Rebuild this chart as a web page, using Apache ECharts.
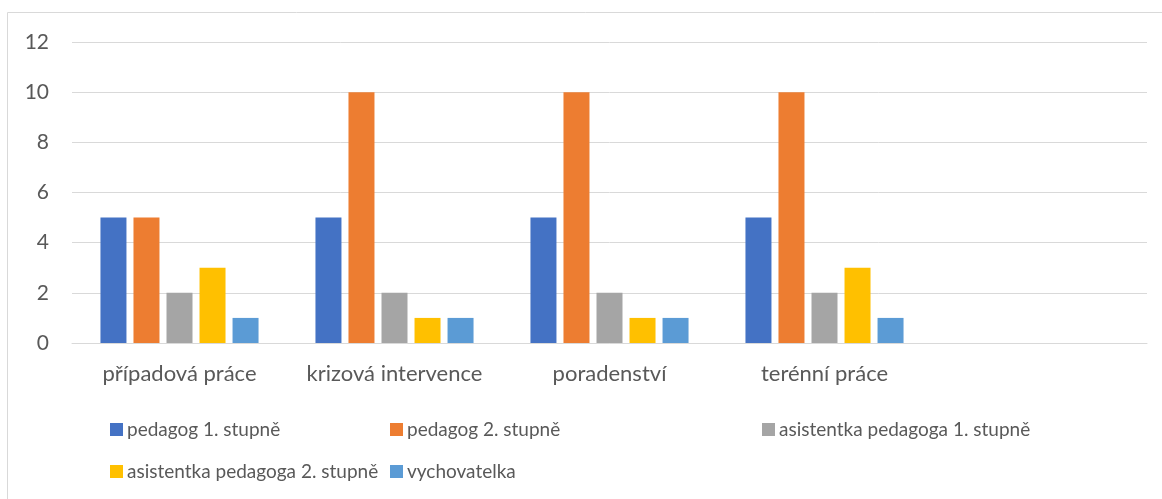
<!DOCTYPE html>
<html>
<head>
<meta charset="utf-8">
<script src="https://cdn.jsdelivr.net/npm/echarts@6/dist/echarts.min.js"></script>
<style>
  html, body { margin: 0; padding: 0; background: #fff; }
  #chart { width: 1162px; height: 499px; }
</style>
</head>
<body>
<div id="chart"></div>
<script>
// data
const categories = ["případová práce", "krizová intervence", "poradenství", "terénní práce", ""]
const seriesNames = [
  "pedagog 1. stupně",
  "pedagog 2. stupně",
  "asistentka pedagoga 1. stupně",
  "asistentka pedagoga 2. stupně",
  "vychovatelka",
]
const pedagog1 = [5, 5, 5, 5, null]
const pedagog2 = [5, 10, 10, 10, null]
const asistentka1 = [2, 2, 2, 2, null]
const asistentka2 = [3, 1, 1, 3, null]
const vychovatelka = [1, 1, 1, 1, null]
const yTicks = [0, 2, 4, 6, 8, 10, 12]

const values = [pedagog1, pedagog2, asistentka1, asistentka2, vychovatelka]
const colors = ["#4472C4", "#ED7D31", "#A5A5A5", "#FFC000", "#5B9BD5"]
const font = "Lato, 'Open Sans', sans-serif"
const textColor = "#595959"

const chart = echarts.init(document.getElementById("chart"))

// one legend per item so each sits where the original put it
const legendSpots = [
  { left: 110, top: 420 },
  { left: 390, top: 420 },
  { left: 762, top: 420 },
  { left: 110, top: 462 },
  { left: 390, top: 462 },
]
const legends = seriesNames.map((name, i) => ({
  data: [name],
  left: legendSpots[i].left,
  top: legendSpots[i].top,
  icon: "rect",
  itemWidth: 13,
  itemHeight: 13,
  padding: 0,
  selectedMode: false,
  textStyle: { color: textColor, fontSize: 19, fontFamily: font, padding: [0, 0, 0, -1] },
}))

const option = {
  animation: false,
  color: colors,
  graphic: [{
    type: "rect",
    shape: { x: 7.5, y: 12.5, width: 1170, height: 500 },
    style: { fill: "none", stroke: "#D9D9D9", lineWidth: 1 },
    silent: true,
  }],
  legend: legends,
  grid: { left: 72, right: 15, top: 42, bottom: 156 },
  xAxis: {
    type: "category",
    data: categories,
    axisLine: { lineStyle: { color: "#D9D9D9", width: 1 } },
    axisTick: { show: false },
    axisLabel: { color: textColor, fontSize: 22, fontFamily: font, margin: 20, interval: 0 },
  },
  yAxis: {
    type: "value",
    min: yTicks[0],
    max: yTicks[yTicks.length - 1],
    interval: 2,
    axisLine: { show: false },
    axisTick: { show: false },
    splitLine: { lineStyle: { color: "#D9D9D9", width: 1 } },
    axisLabel: { color: textColor, fontSize: 21, fontFamily: font, margin: 23 },
  },
  series: seriesNames.map((name, i) => ({
    name: name,
    type: "bar",
    data: values[i],
    barWidth: 26,
    barGap: "27%",
    itemStyle: { color: colors[i] },
  })),
}
chart.setOption(option)
</script>
</body>
</html>
